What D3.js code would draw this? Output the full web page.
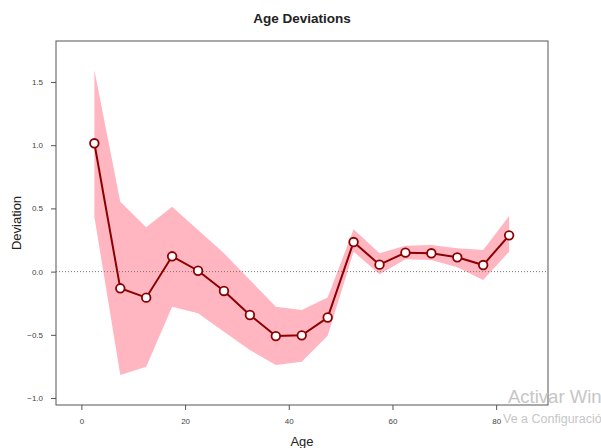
<!DOCTYPE html>
<html>
<head>
<meta charset="utf-8">
<script src="https://cdn.jsdelivr.net/npm/d3@7"></script>
<style>
body{margin:0;background:#fff;}
svg{display:block;font-family:"Liberation Sans",Arial,sans-serif;}
</style>
</head>
<body>
<svg id="chart" width="601" height="448"></svg>
<script>
// age bins (midpoints) and estimated deviation with its band
const ages=[2.5,7.5,12.5,17.5,22.5,27.5,32.5,37.5,42.5,47.5,52.5,57.5,62.5,67.5,72.5,77.5,82.5];
const dev=[1.015,-0.132,-0.206,0.121,0.007,-0.153,-0.343,-0.51,-0.504,-0.363,0.234,0.055,0.15,0.145,0.113,0.052,0.287];
const upper=[1.595,0.553,0.35,0.514,0.329,0.145,-0.066,-0.278,-0.304,-0.205,0.335,0.145,0.205,0.21,0.184,0.171,0.44];
const lower=[0.434,-0.818,-0.752,-0.278,-0.33,-0.475,-0.62,-0.739,-0.713,-0.508,0.158,-0.02,0.097,0.092,0.034,-0.066,0.157];
const xticks=[0,20,40,60,80];
const yticks=[-1.0,-0.5,0.0,0.5,1.0,1.5];

const svg=d3.select("#chart");
const L=56,R=548,T=41,B=405;
const x=d3.scaleLinear().domain([-4.9,90]).range([L,R]);
const y=d3.scaleLinear().domain([-1.055,1.824]).range([B,T]);
const rows=ages.map((a,i)=>({a:a,v:dev[i],hi:upper[i],lo:lower[i]}));

// band
svg.append("path").datum(rows)
  .attr("d",d3.area().x(d=>x(d.a)).y0(d=>y(d.lo)).y1(d=>y(d.hi)))
  .attr("fill","#ffb6c1").attr("stroke","none");

// zero reference
svg.append("line").attr("x1",L).attr("x2",R).attr("y1",y(0)).attr("y2",y(0))
  .attr("stroke","#777").attr("stroke-width",1).attr("stroke-dasharray","1,2");

// line + points
svg.append("path").datum(rows)
  .attr("d",d3.line().x(d=>x(d.a)).y(d=>y(d.v)))
  .attr("fill","none").attr("stroke","#8b0000").attr("stroke-width",2);
svg.selectAll("circle.pt").data(rows).enter().append("circle")
  .attr("class","pt").attr("cx",d=>x(d.a)).attr("cy",d=>y(d.v)).attr("r",4.3)
  .attr("fill","#fff").attr("stroke","#8b0000").attr("stroke-width",1.8);

// box
svg.append("rect").attr("x",L).attr("y",T).attr("width",R-L).attr("height",B-T)
  .attr("fill","none").attr("stroke","#555").attr("stroke-width",1);

// axes
const gx=svg.append("g").attr("transform","translate(0,"+B+")")
  .call(d3.axisBottom(x).tickValues(xticks).tickSize(5).tickPadding(8).tickFormat(d3.format("d")));
const gy=svg.append("g").attr("transform","translate("+L+",0)")
  .call(d3.axisLeft(y).tickValues(yticks).tickSize(5).tickPadding(8).tickFormat(d3.format(".1f")));
[gx,gy].forEach(g=>{
  g.select(".domain").remove();
  g.selectAll(".tick line").attr("stroke","#555");
  g.selectAll(".tick text").attr("fill","#444").style("font-size","8px").style("font-family","'Liberation Sans',Arial,sans-serif");
});

// titles
svg.append("text").attr("x",(L+R)/2).attr("y",23).attr("text-anchor","middle")
  .style("font-size","13.5px").style("font-weight","bold").attr("fill","#222").text("Age Deviations");
svg.append("text").attr("x",(L+R)/2).attr("y",446).attr("text-anchor","middle")
  .style("font-size","13px").attr("fill","#222").text("Age");
svg.append("text").attr("transform","translate(21,"+((T+B)/2)+") rotate(-90)").attr("text-anchor","middle")
  .style("font-size","13px").attr("fill","#222").text("Deviation");

// screenshot watermark
svg.append("text").attr("x",508).attr("y",403).style("font-size","18.5px")
  .attr("fill","#c6c6c6").text("Activar Windows");
svg.append("text").attr("x",503).attr("y",423).style("font-size","12.5px")
  .attr("fill","#c6c6c6").text("Ve a Configuración para activar Windows.");
</script>
</body>
</html>
